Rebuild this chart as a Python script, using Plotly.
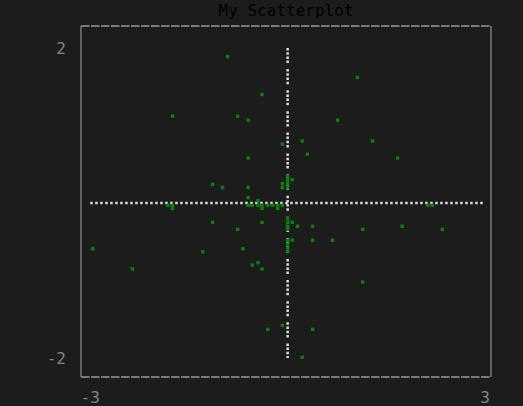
import plotly.graph_objects as go

# Scatter data
pts_x = [-0.91, 1.06, -0.39, -1.75, -0.76, -0.60, 0.76, 0.22, 1.29, -0.08,
         0.30, -0.60, 1.67, 0.00, 0.00, 0.07, -0.08, 0.00, -0.08, 0.00,
         -1.14, -0.99, -0.60, -0.60, -0.45, -1.82, -1.75, -1.75, -0.60, -0.54,
         -0.45, -0.39, -0.39, -0.30, -0.23, -0.15, -0.15, -0.08, 2.13, 2.20,
         0.00, 0.00, 0.07, 0.00, 0.00, -1.14, -0.39, 0.15, 0.38, -0.76,
         1.14, 1.74, 2.35, 0.00, 0.07, 0.00, 0.00, 0.00, 0.38, 0.68,
         -2.96, -1.29, -0.68, -0.45, -0.54, -0.39, -2.36, 1.14, -0.30, -0.08,
         0.38, 0.22]
pts_y = [1.89, 1.62, 1.40, 1.12, 1.12, 1.07, 1.07, 0.80, 0.80, 0.76,
         0.63, 0.58, 0.58, 0.34, 0.30, 0.30, 0.25, 0.25, 0.20, 0.20,
         0.24, 0.20, 0.20, 0.07, 0.03, -0.03, -0.03, -0.07, -0.03, -0.03,
         -0.03, -0.03, -0.07, -0.03, -0.03, -0.03, -0.07, -0.03, -0.03, -0.03,
         -0.20, -0.25, -0.25, -0.30, -0.34, -0.25, -0.25, -0.30, -0.30, -0.34,
         -0.34, -0.30, -0.34, -0.48, -0.48, -0.53, -0.58, -0.62, -0.48, -0.48,
         -0.59, -0.63, -0.59, -0.77, -0.80, -0.85, -0.85, -1.02, -1.63, -1.58,
         -1.63, -1.99]

# Axis cross lines
hline_x = [-3, 3]
hline_y = [0, 0]
vline_x = [0, 0]
vline_y = [2, -2]

x_ticks = [-3, 3]
x_ticktext = ["-3", "3"]
y_ticks = [-2, 2]
y_ticktext = ["-2", "2"]

BG = "#1c1c1c"
MONO = "DejaVu Sans Mono"
GRAY = "#858585"
FRAME = "#7a7a7a"

fig = go.Figure()
fig.add_trace(go.Scatter(
    x=hline_x, y=hline_y, mode="lines",
    line=dict(color="#dcdcdc", width=2.5, dash="2.5px,2.5px"),
    hoverinfo="skip", showlegend=False))
fig.add_trace(go.Scatter(
    x=vline_x, y=vline_y, mode="lines",
    line=dict(color="#dcdcdc", width=2.5,
              dash="2.5px,1.7px,2.5px,1.7px,2.5px,1.7px,2.5px,6.0px"),
    hoverinfo="skip", showlegend=False))
fig.add_trace(go.Scatter(
    x=pts_x, y=pts_y, mode="markers",
    marker=dict(color="#0a820a", size=3.4, symbol="square", line=dict(width=0)),
    showlegend=False))

fig.add_shape(type="line", xref="paper", yref="paper", x0=0, x1=1, y0=1, y1=1,
              line=dict(color=FRAME, width=2, dash="8.5px,1.5px"))
fig.add_shape(type="line", xref="paper", yref="paper", x0=0, x1=1, y0=0, y1=0,
              line=dict(color=FRAME, width=2, dash="8.5px,1.5px"))
fig.add_shape(type="line", xref="paper", yref="paper", x0=0, x1=0, y0=0, y1=1,
              line=dict(color=FRAME, width=1.5))
fig.add_shape(type="line", xref="paper", yref="paper", x0=1, x1=1, y0=0, y1=1,
              line=dict(color=FRAME, width=1.5))

fig.update_layout(
    width=523, height=406,
    margin=dict(l=81, r=32, t=26, b=29, autoexpand=False),
    paper_bgcolor=BG, plot_bgcolor=BG,
    title=dict(text="My Scatterplot", x=0.5, xref="paper", xanchor="center",
               y=1 - 10.5 / 406, yref="container", yanchor="middle",
               font=dict(family=MONO, size=16, color="#000000")),
    xaxis=dict(range=[-3.14, 3.09], showgrid=False, zeroline=False,
               showline=False, ticks="", tickvals=x_ticks, ticktext=x_ticktext,
               tickfont=dict(family=MONO, size=16, color=GRAY),
               ticklabelstandoff=9, automargin=False),
    yaxis=dict(range=[-2.245, 2.284], showgrid=False, zeroline=False,
               showline=False, ticks="", tickvals=y_ticks, ticktext=y_ticktext,
               tickfont=dict(family=MONO, size=16, color=GRAY),
               ticklabelstandoff=14, automargin=False),
    showlegend=False,
)

fig.write_html("out.html")
